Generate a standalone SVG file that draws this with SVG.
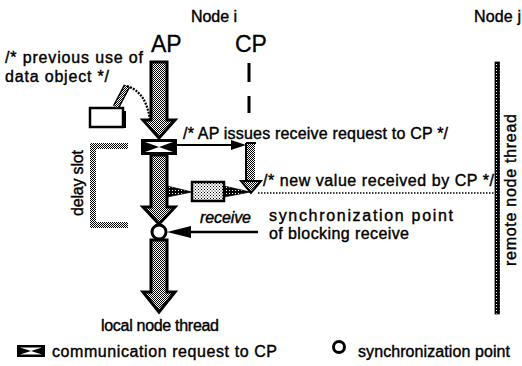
<svg xmlns="http://www.w3.org/2000/svg" width="522" height="366" viewBox="0 0 522 366">
  <defs>
    <pattern id="chk" width="2" height="2" patternUnits="userSpaceOnUse">
      <rect width="2" height="2" fill="#fff"/>
      <rect width="1" height="1" fill="#000"/>
      <rect x="1" y="1" width="1" height="1" fill="#000"/>
    </pattern>
    <pattern id="chkLight" width="3" height="3" patternUnits="userSpaceOnUse">
      <rect width="3" height="3" fill="#fff"/>
      <rect width="1" height="1" fill="#000"/>
      <rect x="1.5" y="1.5" width="1" height="1" fill="#000"/>
    </pattern>
    <pattern id="chkDark" width="3" height="3" patternUnits="userSpaceOnUse">
      <rect width="3" height="3" fill="#000"/>
      <rect x="1" y="1" width="1" height="1" fill="#fff"/>
    </pattern>
  </defs>
  <style>
    text { font-family: "Liberation Sans", Arial, sans-serif; fill: #000; stroke: #000; stroke-width: 0.4; }
    .lbl { font-size: 16px; }
    .big { font-size: 23px; stroke-width: 0.3; }
    .thread { fill: url(#chk); stroke: #000; stroke-width: 3; stroke-linejoin: miter; }
    .wedge { fill: url(#chkDark); stroke: #000; stroke-width: 0.8; }
    .line { stroke: #000; fill: none; }
  </style>

  <!-- headings -->
  <g id="heading-node-i"><text class="lbl" x="191" y="22" textLength="46">Node i</text></g>
  <g id="heading-node-j"><text class="lbl" x="474" y="22" textLength="47">Node j</text></g>
  <g id="heading-ap"><text class="big" x="151" y="52">AP</text></g>
  <g id="heading-cp"><text class="big" x="235" y="52">CP</text></g>

  <!-- local AP thread -->
  <g id="ap-thread">
    <path class="thread" d="M151,62 H167 V120 H175 L159,138 L143,120 H151 Z"/>
    <path class="thread" d="M151,155 H167 V207 H175 L159,224 L143,207 H151 Z"/>
    <path class="thread" d="M151,240 H167 V292 H175 L159,312 L143,292 H151 Z"/>
    <text class="lbl" x="160" y="331" text-anchor="middle" textLength="118">local node thread</text>
  </g>

  <!-- communication request (bowtie) -->
  <g id="request">
    <rect x="141" y="139" width="36" height="16" fill="#000"/>
    <polygon points="145,142 173,142 159,147" fill="#fff"/>
    <polygon points="145,152 173,152 159,147" fill="#fff"/>
  </g>

  <!-- synchronization point -->
  <g id="sync-point">
    <circle cx="159" cy="232" r="7" fill="#fff" stroke="#000" stroke-width="3"/>
    <text class="lbl" x="269" y="221" textLength="184">synchronization point</text>
    <text class="lbl" x="269" y="239" textLength="140">of blocking receive</text>
  </g>

  <!-- CP dashed lane -->
  <g id="cp-lane">
    <line class="line" x1="249" y1="63" x2="249" y2="82" stroke-width="3"/>
    <line class="line" x1="249" y1="96" x2="249" y2="113" stroke-width="3"/>
  </g>

  <!-- data object -->
  <g id="data-object">
    <rect x="90" y="108" width="33" height="19" fill="#fff" stroke="#000" stroke-width="2.5"/>
    <rect x="122" y="111" width="4" height="17" fill="#000"/>
    <text class="lbl" x="5" y="63" textLength="138">/* previous use of</text>
    <text class="lbl" x="5" y="82" textLength="104">data object */</text>
  </g>

  <!-- delay slot bracket -->
  <g id="delay-slot">
    <path d="M128,146 H93 V225 H128" fill="none" stroke="url(#chk)" stroke-width="6"/>
    <text class="lbl" transform="translate(83,183) rotate(-90)" text-anchor="middle" textLength="66">delay slot</text>
  </g>

  <!-- new value box -->
  <g id="value-box">
    <rect x="192" y="182" width="32" height="19" fill="url(#chkLight)" stroke="#000" stroke-width="2.5"/>
  </g>

  <!-- remote node thread -->
  <g id="remote-thread">
    <rect x="495" y="62" width="4.5" height="252" fill="url(#chkDark)" stroke="#000" stroke-width="0.8"/>
    <text class="lbl" transform="translate(516,190) rotate(-90)" text-anchor="middle" textLength="152">remote node thread</text>
  </g>

  <!-- connectors -->
  <g id="connectors">
    <!-- previous use of data object -->
    <path d="M116,107 L127,86" stroke="#000" stroke-width="7" fill="none"/>
    <path d="M116,107 L127,86" stroke="url(#chk)" stroke-width="4" fill="none"/>
    <path d="M127,86 C140,90 148,102 150,121" stroke="#000" stroke-width="2.2" stroke-dasharray="2 1.2" fill="none"/>

    <!-- AP issues request to CP -->
    <line class="line" x1="177" y1="145" x2="234" y2="145" stroke-width="2"/>
    <polygon points="231,140 246,145 231,150" fill="#000"/>
    <rect x="246" y="143" width="9" height="38" fill="url(#chk)"/>
    <line class="line" x1="246" y1="143" x2="246" y2="181" stroke-width="2"/>
    <line class="line" x1="246" y1="143" x2="256" y2="143" stroke-width="2"/>
    <polygon points="241,181 261,181 251,193" fill="url(#chk)" stroke="#000" stroke-width="2"/>
    <text class="lbl" x="183" y="139" textLength="265">/* AP issues receive request to CP */</text>

    <!-- new value delivered to AP -->
    <polygon points="250,192 224,186 224,197" class="wedge"/>
    <polygon points="192,192 167,186 167,197" class="wedge"/>
    <line class="line" x1="258" y1="193" x2="495" y2="193" stroke-width="1.5" stroke-dasharray="1.5 1.5"/>
    <text class="lbl" x="263" y="186" textLength="231">/* new value received by CP */</text>

    <!-- receive -->
    <line class="line" x1="180" y1="232" x2="258" y2="232" stroke-width="2.5"/>
    <polygon points="167,232 191,226 191,238" fill="#000"/>
    <text class="lbl" x="200" y="223" font-style="italic" textLength="51">receive</text>
  </g>

  <!-- legend -->
  <g id="legend">
    <rect x="17" y="345" width="28" height="12" fill="#000"/>
    <polygon points="20,347.5 42,347.5 31,351" fill="#fff"/>
    <polygon points="20,354.5 42,354.5 31,351" fill="#fff"/>
    <text class="lbl" x="52" y="357" textLength="225">communication request to CP</text>
    <circle cx="339" cy="347" r="5.5" fill="#fff" stroke="#000" stroke-width="3"/>
    <text class="lbl" x="358" y="357" textLength="152">synchronization point</text>
  </g>
</svg>
